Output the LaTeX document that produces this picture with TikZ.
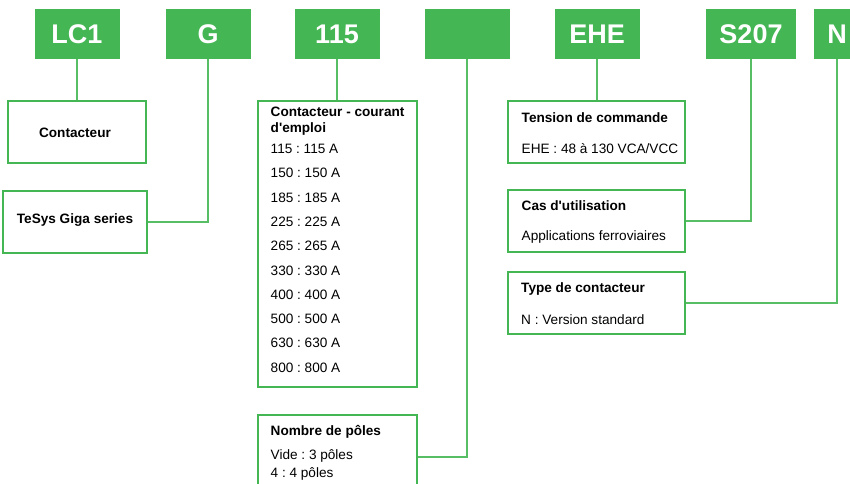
\documentclass[tikz,border=0pt]{standalone}
\usepackage{fontspec}
\setmainfont{Liberation Sans}
\definecolor{gfill}{HTML}{44B654}
\definecolor{gline}{HTML}{58BE65}
\begin{document}
\frenchspacing
\begin{tikzpicture}[x=1pt,y=-1pt,
 code/.style={fill=gfill, draw=none, text=white, font=\fontsize{27}{27}\selectfont\bfseries, inner sep=0, minimum height=50pt},
 infobox/.style={draw=gfill, line width=1.4pt, fill=white, inner sep=0},
 conn/.style={color=gline, line width=1.1pt},
 hd/.style={anchor=base west, font=\fontsize{13.6}{14}\selectfont\bfseries\frenchspacing, inner sep=0},
 tx/.style={anchor=base west, font=\fontsize{13.6}{14}\selectfont\frenchspacing, inner sep=0},
 ctr/.style={font=\fontsize{13.6}{14}\selectfont\bfseries, inner sep=0}]
\useasboundingbox (0,0) rectangle (850,483);
\clip (0,0) rectangle (850,483);
% code boxes
\node[code, minimum width=85pt] (lc1) at (77,34) {LC1};
\node[code, minimum width=85pt] (g) at (208,34) {G};
\node[code, minimum width=85pt] (c115) at (337,34) {115};
\node[code, minimum width=85pt] (blank) at (467,34) {};
\node[code, minimum width=85pt] (ehe) at (597,34) {EHE};
\node[code, minimum width=90pt] (s207) at (751,34) {S207};
\node[code, minimum width=46pt] (nn) at (837,34) {N};
% info boxes
\node[infobox, minimum width=138pt, minimum height=62pt] (contacteur) at (77,132) {};
\node[infobox, minimum width=144pt, minimum height=62pt] (tesys) at (75,222) {};
\node[infobox, minimum width=159pt, minimum height=286pt] (courant) at (337.5,244) {};
\node[infobox, minimum width=159pt, minimum height=84pt] (poles) at (337.5,457) {};
\node[infobox, minimum width=177pt, minimum height=62pt] (tension) at (596.5,132) {};
\node[infobox, minimum width=177pt, minimum height=62pt] (cas) at (596.5,221) {};
\node[infobox, minimum width=177pt, minimum height=62pt] (type) at (596.5,303) {};
% connectors
\draw[conn] (lc1.south) -- (lc1.south |- contacteur.north);
\draw[conn] (g.south) |- (tesys.east);
\draw[conn] (c115.south) -- (c115.south |- courant.north);
\draw[conn] (blank.south) |- (poles.east);
\draw[conn] (ehe.south) -- (ehe.south |- tension.north);
\draw[conn] (s207.south) |- (cas.east);
\draw[conn] (nn.south) |- (type.east);
% texts
\node[ctr] (tcont) at (75,133) {Contacteur};
\node[ctr] (ttesys) at (75,220) {TeSys Giga series};
\node[hd] (tcour1) at (270.5,116.5) {Contacteur - courant};
\node[hd] (tcour2) at (270.5,132.5) {d\textquotesingle emploi};
\node[tx] (i1) at (270.5,153.5) {115 : 115 A};
\node[tx] (i2) at (270.5,177.8) {150 : 150 A};
\node[tx] (i3) at (270.5,202.1) {185 : 185 A};
\node[tx] (i4) at (270.5,226.4) {225 : 225 A};
\node[tx] (i5) at (270.5,250.7) {265 : 265 A};
\node[tx] (i6) at (270.5,275.0) {330 : 330 A};
\node[tx] (i7) at (270.5,299.3) {400 : 400 A};
\node[tx] (i8) at (270.5,323.6) {500 : 500 A};
\node[tx] (i9) at (270.5,347.9) {630 : 630 A};
\node[tx] (i10) at (270.5,372.2) {800 : 800 A};
\node[hd] (tpol) at (270.5,435.5) {Nombre de pôles};
\node[tx] (p1) at (270.5,459) {Vide : 3 pôles};
\node[tx] (p2) at (270.5,477.3) {4 : 4 pôles};
\node[hd] (tten) at (521.5,122) {Tension de commande};
\node[tx] (ten1) at (521.5,153) {EHE : 48 à 130 VCA/VCC};
\node[hd] (tcas) at (521.5,210.8) {Cas d\textquotesingle utilisation};
\node[tx] (cas1) at (521.5,240) {Applications ferroviaires};
\node[hd] (ttype) at (521,292.6) {Type de contacteur};
\node[tx] (type1) at (521,324.1) {N : Version standard};
\end{tikzpicture}
\end{document}
